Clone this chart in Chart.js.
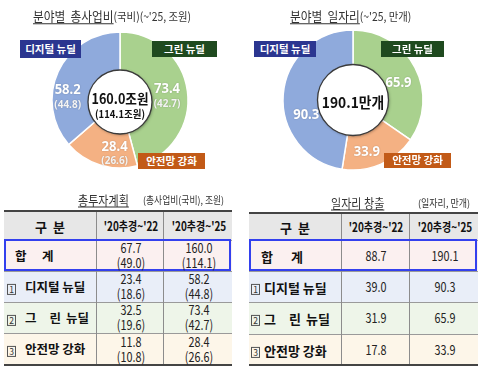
<!DOCTYPE html>
<html><head><meta charset="utf-8">
<script src="https://cdn.jsdelivr.net/npm/chart.js@4.4.0/dist/chart.umd.min.js"></script>
<style>
html,body{margin:0;padding:0;background:#fff;}
#root{position:relative;width:482px;height:370px;overflow:hidden;font-family:"Noto Sans CJK KR","Noto Sans",sans-serif;color:#222;}
.t{position:absolute;white-space:nowrap;line-height:1;}
canvas{position:absolute;}
.tag{position:absolute;color:#fff;font-weight:bold;font-size:10.5px;display:flex;align-items:center;justify-content:center;line-height:1;z-index:3;}
.blk{position:absolute;}
.nb{display:inline-block;border:1px solid #555;width:9px;height:11px;font-size:8.5px;line-height:9px;text-align:center;font-weight:normal;color:#333;box-sizing:border-box;vertical-align:middle;}
</style></head><body><div id="root"></div>
<script>
// ---- data ----
const donutCategories = ['그린 뉴딜', '안전망 강화', '디지털 뉴딜'];
const budget25 = [73.4, 28.4, 58.2];
const budget25National = [42.7, 26.6, 44.8];
const jobs25 = [65.9, 33.9, 90.3];

const tableRowLabels = ['합계', '디지털 뉴딜', '그린 뉴딜', '안전망 강화'];
const tableColumns = ["'20추경~'22", "'20추경~'25"];
const budgetTo22 = [67.7, 23.4, 32.5, 11.8];
const budgetTo22National = [49.0, 18.6, 19.6, 10.8];
const budgetTo25 = [160.0, 58.2, 73.4, 28.4];
const budgetTo25National = [114.1, 44.8, 42.7, 26.6];
const jobsTo22 = [88.7, 39.0, 31.9, 17.8];
const jobsTo25 = [190.1, 90.3, 65.9, 33.9];

// ---- styles ----
const segmentColors = ['#a9d18e', '#f4b183', '#8faadc'];
const tagColors = ['#1f4a1f', '#c25a17', '#2b3690'];
const rowColors = ['#fbf0f0', '#e9eef8', '#eef5e9', '#fdf6e9'];

const root = document.getElementById('root');
function txt(str, x, y, css, anchor, sx) {
  const d = document.createElement('div');
  d.className = 't';
  d.innerHTML = str;
  d.style.cssText += css || '';
  d.style.left = x + 'px';
  d.style.top = y + 'px';
  sx = sx || 1;
  if (anchor === 'l') {
    d.style.transformOrigin = '0 50%';
    d.style.transform = 'translate(0,-50%) scaleX(' + sx + ')';
  } else {
    d.style.transform = 'translate(-50%,-50%) scaleX(' + sx + ')';
  }
  root.appendChild(d);
  return d;
}
function rect(x, y, w, h, css) {
  const d = document.createElement('div');
  d.className = 'blk';
  d.style.cssText = 'left:' + x + 'px;top:' + y + 'px;width:' + w + 'px;height:' + h + 'px;' + (css || '');
  root.appendChild(d);
  return d;
}

// ---- doughnut plugin ----
function drawScaled(ctx, s, x, y, sx) {
  ctx.save();
  ctx.translate(x, y);
  ctx.scale(sx, 1);
  ctx.fillText(s, 0, 0);
  ctx.restore();
}
const sliceLabels = {
  id: 'sliceLabels',
  afterDatasetsDraw(chart, args, o) {
    const ctx = chart.ctx;
    const meta = chart.getDatasetMeta(0);
    const first = meta.data[0].getProps(['x', 'y'], true);
    // center disc
    ctx.save();
    ctx.shadowColor = 'rgba(0,0,0,0.35)';
    ctx.shadowBlur = 3;
    ctx.shadowOffsetX = 1;
    ctx.shadowOffsetY = 1;
    ctx.beginPath();
    ctx.arc(first.x, first.y + o.discDy, o.discR, 0, Math.PI * 2);
    ctx.fillStyle = '#fff';
    ctx.fill();
    ctx.restore();
    ctx.save();
    ctx.beginPath();
    ctx.arc(first.x, first.y + o.discDy, o.discR, 0, Math.PI * 2);
    ctx.lineWidth = 1.3;
    ctx.strokeStyle = '#3a3a3a';
    ctx.stroke();
    ctx.fillStyle = '#111';
    ctx.textAlign = 'center';
    ctx.textBaseline = 'middle';
    ctx.font = 'bold ' + o.centerSize + 'px "Noto Sans CJK KR"';
    drawScaled(ctx, o.centerMain, first.x, first.y + o.centerDy, o.centerSx);
    if (o.centerSub) {
      ctx.font = 'bold 10.5px "Noto Sans CJK KR"';
      drawScaled(ctx, o.centerSub, first.x, first.y + o.centerDy + 15, 0.9);
    }
    // slice labels
    meta.data.forEach((arc, i) => {
      const p = arc.getProps(['x', 'y', 'startAngle', 'endAngle', 'innerRadius', 'outerRadius'], true);
      const a = (p.startAngle + p.endAngle) / 2;
      const r = (p.innerRadius + p.outerRadius) / 2;
      const n = o.nudges[i];
      const x = p.x + Math.cos(a) * r + n[0];
      const y = p.y + Math.sin(a) * r + n[1];
      const val = chart.data.datasets[0].data[i];
      ctx.fillStyle = '#ffffff';
      ctx.shadowColor = 'rgba(0,0,0,0.25)';
      ctx.shadowBlur = 1.5;
      if (o.sub) {
        ctx.font = 'bold 14.5px "Noto Sans"';
        drawScaled(ctx, val.toFixed(1), x, y - 7, 0.9);
        ctx.font = 'bold 10.5px "Noto Sans"';
        ctx.fillStyle = '#f3f3f3';
        drawScaled(ctx, '(' + o.sub[i].toFixed(1) + ')', x, y + 8, 0.95);
      } else {
        ctx.font = 'bold 14.5px "Noto Sans"';
        drawScaled(ctx, val.toFixed(1), x, y, 0.9);
      }
      ctx.shadowBlur = 0;
    });
    ctx.restore();
  }
};

function sum(a) { return a.reduce((s, v) => s + v, 0); }

function makeDonut(cx, cy, values, radius, cutout, po) {
  const cv = document.createElement('canvas');
  cv.width = 180; cv.height = 180;
  cv.style.left = (cx - 90) + 'px';
  cv.style.top = (cy - 90) + 'px';
  cv.style.width = '180px'; cv.style.height = '180px';
  root.appendChild(cv);
  return new Chart(cv, {
    type: 'doughnut',
    data: { labels: donutCategories, datasets: [{ data: values, backgroundColor: segmentColors, borderColor: '#ffffff', borderWidth: 1.5 }] },
    options: {
      responsive: false, animation: false, radius: radius, cutout: cutout,
      layout: { padding: 0 },
      plugins: { legend: { display: false }, tooltip: { enabled: false }, sliceLabels: po }
    },
    plugins: [sliceLabels]
  });
}

makeDonut(120, 100, budget25, 68, 30, {
  sub: budget25National, nudges: [[2, 2], [8, 10], [-11, 16]],
  discR: 32, discDy: 2,
  centerMain: sum(budget25).toFixed(1) + '조원', centerSub: '(' + sum(budget25National).toFixed(1) + '조원)',
  centerSize: 14, centerDy: -1, centerSx: 0.9
});
makeDonut(353, 100, jobs25, 70, 33, {
  sub: null, nudges: [[3, 5], [-5, 8], [1, 19]],
  discR: 35.5, discDy: 0,
  centerMain: sum(jobs25).toFixed(1) + '만개', centerSub: null,
  centerSize: 15, centerDy: 2, centerSx: 0.92
});

// ---- titles ----
txt('<span style="text-decoration:underline;text-underline-offset:2px">분야별&nbsp; 총사업비</span><span style="font-size:11.5px">(국비)(~\'25, 조원)</span>', 33, 16, 'font-size:13px;color:#333;', 'l', 0.9);
txt('<span style="text-decoration:underline;text-underline-offset:2px">분야별&nbsp; 일자리</span><span style="font-size:11.5px">(~\'25, 만개)</span>', 290, 16, 'font-size:13px;color:#333;', 'l', 0.9);

// ---- tags ----
function tag(label, color, x1, y1, x2, y2) {
  const d = document.createElement('div');
  d.className = 'tag';
  d.textContent = label;
  d.style.cssText += 'left:' + x1 + 'px;top:' + y1 + 'px;width:' + (x2 - x1) + 'px;height:' + (y2 - y1) + 'px;background:' + color + ';';
  root.appendChild(d);
}
tag(donutCategories[2], tagColors[2], 20, 40, 81, 58);
tag(donutCategories[0], tagColors[0], 152, 41, 217, 57);
tag(donutCategories[1], tagColors[1], 138, 153, 205, 169);
tag(donutCategories[2], tagColors[2], 254, 41, 316, 57);
tag(donutCategories[0], tagColors[0], 381, 41, 444, 57);
tag(donutCategories[1], tagColors[1], 384, 153, 451, 168);

// ---- tables ----
const numCss = 'font-size:13.5px;color:#222;';
function table(X, Y, colA, colB, labelOff, twoLine) {
  const X0 = X[0], X3 = X[3];
  const W = X3 - X0;
  rect(X0, Y[0], W, Y[1] - Y[0], 'background:#e7e7e7;');
  for (let r = 0; r < 4; r++) rect(X0, Y[r + 1], W, Y[r + 2] - Y[r + 1], 'background:' + rowColors[r] + ';');
  for (let r = 1; r < 5; r++) rect(X0, Y[r], W, 1, 'background:#9a9a9a;');
  rect(X[1], Y[0], 1, Y[5] - Y[0], 'background:#8c8c8c;');
  rect(X[2], Y[0], 1, Y[5] - Y[0], 'background:#8c8c8c;');
  rect(X0, Y[0] - 1, W, 2, 'background:#444;');
  rect(X0, Y[5] - 1, W, 2, 'background:#444;');
  rect(X0, Y[1] - 1, W - 1, Y[2] - Y[1] + 1, 'border:2px solid #3340ee;box-sizing:border-box;');
  // header
  const hy = (Y[0] + Y[1]) / 2;
  txt('구&nbsp; 분', (X[0] + X[1]) / 2, hy, 'font-size:13px;font-weight:bold;color:#111;', 'c');
  txt(tableColumns[0], (X[1] + X[2]) / 2 + 1, hy, 'font-size:12.5px;font-weight:bold;color:#111;', 'c', 0.8);
  txt(tableColumns[1], (X[2] + X[3]) / 2 + 1, hy, 'font-size:12.5px;font-weight:bold;color:#111;', 'c', 0.8);
  // labels
  const lab = 'font-weight:bold;color:#111;font-size:' + labelOff.fs + 'px;';
  for (let r = 0; r < 4; r++) {
    const cy = (Y[r + 1] + Y[r + 2]) / 2;
    const name = tableRowLabels[r];
    if (r === 0) {
      txt(name[0], X0 + labelOff.h1, cy, lab, 'l');
      txt(name[1], X0 + labelOff.h2, cy, lab, 'l');
    } else {
      txt('<span class="nb">' + r + '</span>', X0 + labelOff.box, cy, '', 'l');
      let html = name;
      if (r === 2) html = name[0] + '<span style="display:inline-block;width:13px"></span>' + name[1] + '<span style="display:inline-block;width:5px"></span>' + name.slice(3);
      txt(html, X0 + labelOff.text, cy, lab, 'l', labelOff.sx);
    }
    const cA = (X[1] + X[2]) / 2 + 1, cB = (X[2] + X[3]) / 2 + 1;
    if (twoLine) {
      txt(colA[0][r].toFixed(1), cA, cy - 7.5, numCss, 'c', 0.8);
      txt('(' + colA[1][r].toFixed(1) + ')', cA, cy + 7.5, numCss, 'c', 0.8);
      txt(colB[0][r].toFixed(1), cB, cy - 7.5, numCss, 'c', 0.8);
      txt('(' + colB[1][r].toFixed(1) + ')', cB, cy + 7.5, numCss, 'c', 0.8);
    } else {
      txt(colA[r].toFixed(1), cA, cy, numCss, 'c', 0.8);
      txt(colB[r].toFixed(1), cB, cy, numCss, 'c', 0.8);
    }
  }
}
table([4, 96, 163, 232], [211, 240, 271, 302, 333, 365], [budgetTo22, budgetTo22National], [budgetTo25, budgetTo25National],
  { fs: 12.5, h1: 11, h2: 38, box: 3, text: 21, sx: 1 }, true);
table([249, 341, 409, 478], [213, 240, 271, 302, 334, 365], jobsTo22, jobsTo25,
  { fs: 13, h1: 12, h2: 42, box: 2, text: 15, sx: 1 }, false);

// table titles
txt('<span style="text-decoration:underline;text-underline-offset:2px">총투자계획</span>', 78, 199, 'font-size:13px;color:#333;', 'l', 0.85);
txt('(총사업비(국비), 조원)', 143, 200, 'font-size:10px;color:#333;', 'l', 0.88);
txt('<span style="text-decoration:underline;text-underline-offset:2px">일자리 창출</span>', 331, 202, 'font-size:13px;color:#333;', 'l', 0.85);
txt('(일자리, 만개)', 418, 203, 'font-size:10px;color:#333;', 'l', 0.9);
</script></body></html>
